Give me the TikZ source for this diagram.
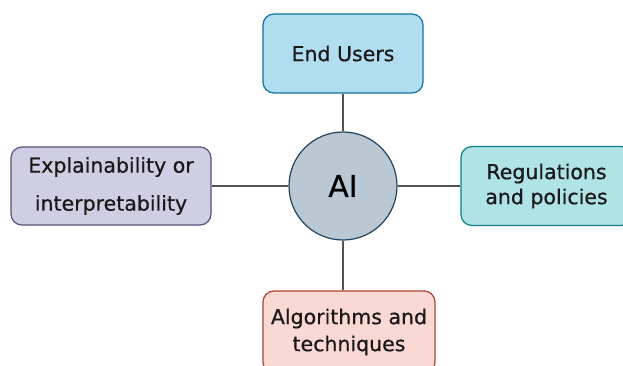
\documentclass[tikz,border=0pt]{standalone}
\usepackage{fontspec}
\setmainfont{DejaVu Sans}
\newfontfamily\labelfont{DejaVu Sans}[FakeBold=0.6]
\definecolor{usersfill}{HTML}{B1DDF0}
\definecolor{usersline}{HTML}{10739E}
\definecolor{explfill}{HTML}{D0CEE2}
\definecolor{explline}{HTML}{56517E}
\definecolor{regfill}{HTML}{B0E3E6}
\definecolor{regline}{HTML}{0E8088}
\definecolor{algofill}{HTML}{FAD9D5}
\definecolor{algoline}{HTML}{AE4132}
\definecolor{aifill}{HTML}{BAC8D3}
\definecolor{ailine}{HTML}{23445D}
\definecolor{linkgray}{HTML}{555555}
\tikzset{
  topic/.style={draw, rounded corners=11pt, line width=1.2pt, align=center,
    inner sep=0pt, font=\labelfont\fontsize{20.5}{25}\selectfont, text=black!90},
  hub/.style={circle, draw=ailine, fill=aifill, line width=1.2pt,
    minimum size=108pt, inner sep=0pt, font=\labelfont\fontsize{30}{36}\selectfont},
  link/.style={draw=linkgray, line width=1.4pt}
}
\begin{document}
\begin{tikzpicture}[x=1pt,y=-1pt]
  \useasboundingbox (0,0) rectangle (623,366);
  \fill[white] (0,0) rectangle (623,366);
  \node[hub] (ai) at (343,186) {AI};
  \node[topic, draw=usersline, fill=usersfill, minimum width=160pt, minimum height=79pt]
    (users) at (343,53.5) {End Users};
  \node[topic, draw=explline, fill=explfill, minimum width=200pt, minimum height=78pt,
    font=\labelfont\fontsize{20.5}{38}\selectfont]
    (expl) at (111,186) {Explainability or\\interpretability};
  \node[topic, draw=regline, fill=regfill, minimum width=171pt, minimum height=79pt]
    (reg) at (546.5,186) {Regulations\\and policies};
  \node[topic, draw=algoline, fill=algofill, minimum width=172pt, minimum height=82pt,
    font=\labelfont\fontsize{20.5}{27}\selectfont]
    (algo) at (349,332) {Algorithms and\\techniques};
  \draw[link] (ai.north) -- (ai.north |- users.south);
  \draw[link] (ai.west) -- (expl.east);
  \draw[link] (ai.east) -- (reg.west);
  \draw[link] (ai.south) -- (ai.south |- algo.north);
\end{tikzpicture}
\end{document}
